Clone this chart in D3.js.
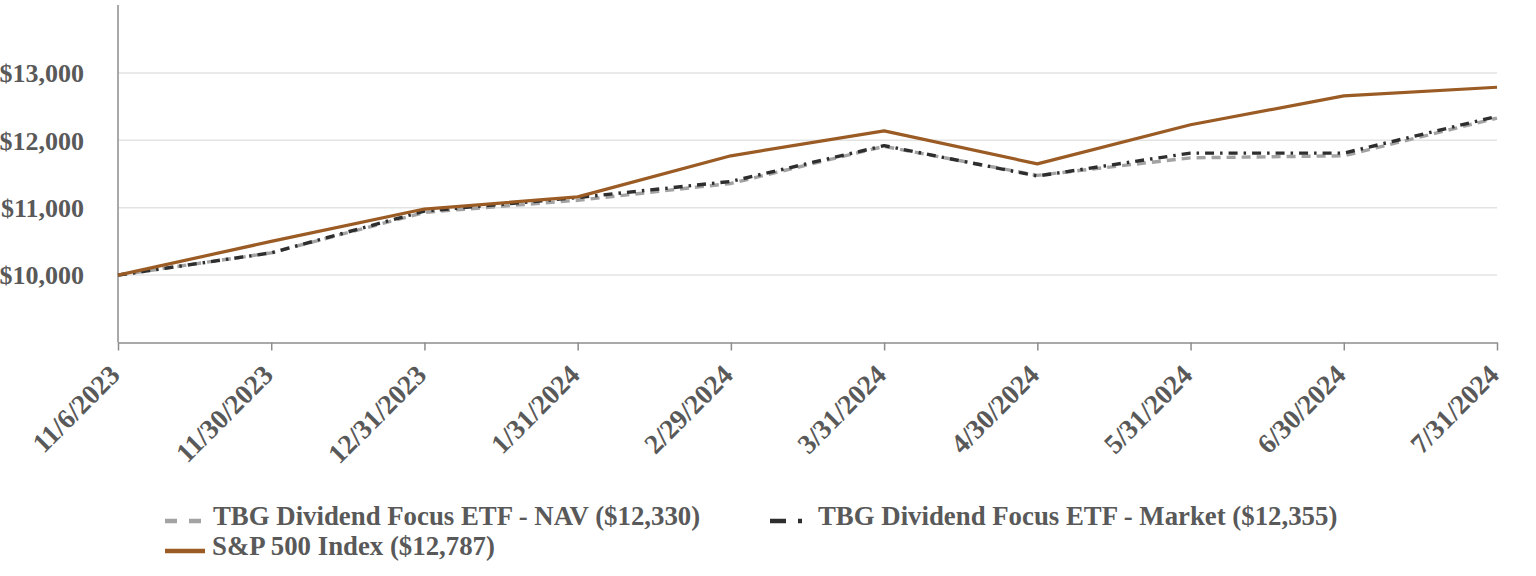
<!DOCTYPE html>
<html><head><meta charset="utf-8">
<script src="https://cdn.jsdelivr.net/npm/d3@7"></script>
<style>body{margin:0;background:#fff}svg{display:block}</style>
</head><body>
<svg id="c" width="1536" height="576"></svg>
<script>
const categories = ["11/6/2023","11/30/2023","12/31/2023","1/31/2024","2/29/2024","3/31/2024","4/30/2024","5/31/2024","6/30/2024","7/31/2024"];
const navValues = [10000,10330,10930,11110,11360,11910,11480,11740,11770,12330];
const marketValues = [10000,10330,10950,11150,11390,11920,11470,11810,11810,12355];
const spValues = [10000,10500,10980,11160,11770,12140,11650,12230,12660,12787];
const yTicks = [10000,11000,12000,13000];
const seriesNames = ["TBG Dividend Focus ETF - NAV ($12,330)","TBG Dividend Focus ETF - Market ($12,355)","S&P 500 Index ($12,787)"];

const svg = d3.select("#c");
const font = "'Liberation Serif','Times New Roman',serif";
const textColor = "#595959";
const x = d3.scalePoint().domain(categories).range([118, 1497]);
const y = d3.scaleLinear().domain([9000, 14000]).range([342.5, 5.5]);

// gridlines
svg.append("g").selectAll("line").data(yTicks).join("line")
  .attr("x1", 118).attr("x2", 1497)
  .attr("y1", d => y(d)).attr("y2", d => y(d))
  .attr("stroke", "#e3e3e3").attr("stroke-width", 1.5);

// y axis
const yAxis = svg.append("g").attr("transform", "translate(118,0)")
  .call(d3.axisLeft(y).tickValues(yTicks).tickSize(0).tickPadding(34)
    .tickFormat(d => "$" + d3.format(",")(d)));
yAxis.select(".domain").remove();
yAxis.append("line").attr("x1",0).attr("x2",0).attr("y1",5).attr("y2",y(9000)).attr("stroke","#8c8c8c").attr("stroke-width",1.5);
yAxis.selectAll("text").attr("font-family", font).attr("font-weight","bold").attr("font-size", 26).attr("fill", textColor).attr("dy","0.34em");

// x axis
const xAxis = svg.append("g").attr("transform", `translate(0,${y(9000)})`)
  .call(d3.axisBottom(x).tickSize(8).tickSizeOuter(0));
xAxis.select(".domain").attr("stroke","#8c8c8c").attr("stroke-width",1.5);
xAxis.selectAll(".tick line").attr("stroke","#8c8c8c").attr("stroke-width",1.5);
xAxis.selectAll("text")
  .attr("font-family", font).attr("font-weight","bold").attr("font-size", 27.5).attr("fill", textColor)
  .attr("text-anchor","end").attr("x", 0).attr("y", 0).attr("dy", 0)
  .attr("transform","translate(3,34) rotate(-45)");

const line = d3.line().x((d,i) => x(categories[i])).y(d => y(d));
const styles = [
  {vals: navValues, stroke: "#a3a3a3", dash: "9,6", w: 3.4},
  {vals: marketValues, stroke: "#2e2e2e", dash: "9,6,2.5,6", w: 3.4},
  {vals: spValues, stroke: "#9a5b24", dash: null, w: 3.2}
];
styles.forEach(s => {
  svg.append("path").datum(s.vals).attr("d", line)
    .attr("fill","none").attr("stroke", s.stroke).attr("stroke-width", s.w)
    .attr("stroke-dasharray", s.dash).attr("stroke-linejoin","round");
});

// legend
const legendPos = [{x:165, y:521, tx:213},{x:770, y:521, tx:818},{x:165, y:551, tx:212}];
const lg = svg.append("g");
styles.forEach((s,i) => {
  const p = legendPos[i];
  lg.append("line").attr("x1", p.x).attr("x2", p.x + (i===1 ? 32 : 40)).attr("y1", p.y).attr("y2", p.y)
    .attr("stroke", s.stroke).attr("stroke-width", 4.5)
    .attr("stroke-dasharray", i===0 ? "12,12" : i===1 ? "16,12,4,20" : null);
  lg.append("text").attr("x", p.tx).attr("y", p.y + 4).text(seriesNames[i])
    .attr("font-family", font).attr("font-weight","bold").attr("font-size", 26.8).attr("fill", textColor);
});
</script>
</body></html>
